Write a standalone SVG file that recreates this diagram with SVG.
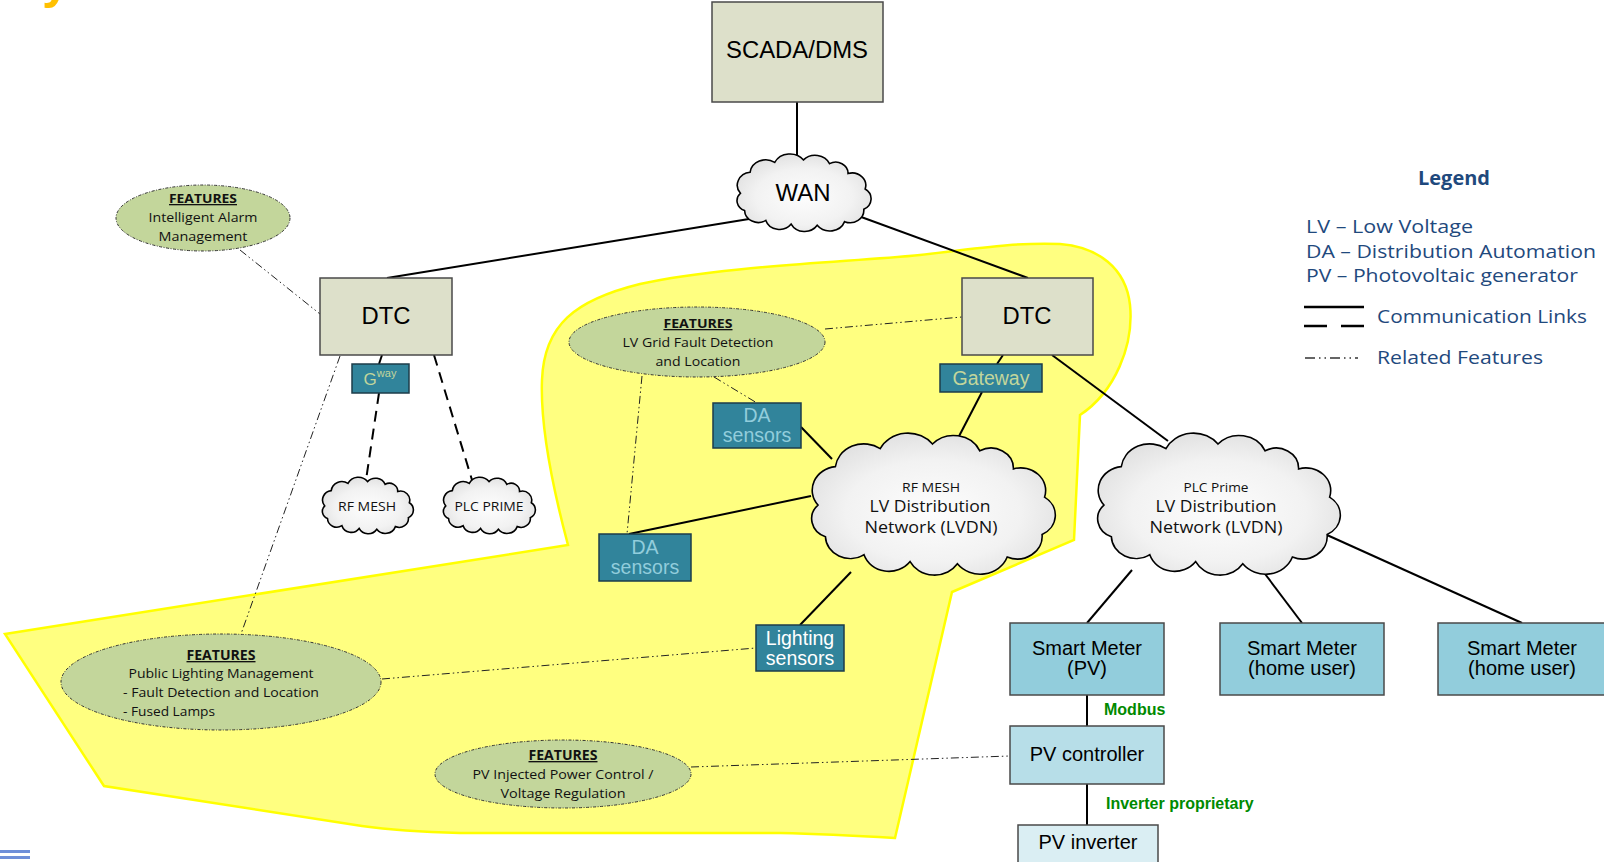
<svg xmlns="http://www.w3.org/2000/svg" xmlns:xlink="http://www.w3.org/1999/xlink" width="1604" height="862" viewBox="0 0 1604 862">
<defs>
<radialGradient id="cg" cx="0.5" cy="0.55" r="0.6">
<stop offset="0" stop-color="#fdfdfd"/>
<stop offset="0.6" stop-color="#f2f2f2"/>
<stop offset="1" stop-color="#dedede"/>
</radialGradient>
<path id="cloud" vector-effect="non-scaling-stroke" d="M 8,62 A 21,21 0 0 1 22,28 A 23,23 0 0 1 58,12 A 25,25 0 0 1 100,8 A 23,23 0 0 1 138,14 A 18,18 0 0 1 165,30 A 20,20 0 0 1 190,55 A 19,19 0 0 1 188,88 A 20,20 0 0 1 160,108 A 23,23 0 0 1 120,114 A 22,22 0 0 1 82,112 A 21,21 0 0 1 45,106 A 20,20 0 0 1 14,90 A 17,17 0 0 1 8,62 Z"/>
</defs>
<style>
.box{stroke:#4a4a4a;stroke-width:1.5}
.gray{fill:#dde0ca}
.teal{fill:#31849b;stroke:#1d3d4a;stroke-width:1.5}
.sm{fill:#92cddc}
.pvc{fill:#b7dee8}
.pvi{fill:#daeef3}
.cl{fill:url(#cg);stroke:#000;stroke-width:1.6}
.feat{fill:#c3d69b;stroke:#333;stroke-width:1;stroke-dasharray:3,1.5,1,1.5}
.ar{font-family:"Liberation Sans",Arial,sans-serif;text-anchor:middle}
.os{font-family:"Open Sans","Noto Sans",sans-serif;fill:#111;text-anchor:middle}
.st{text-anchor:start}
.ft{font-family:"Open Sans","Noto Sans",sans-serif;font-weight:bold;text-decoration:underline;fill:#111;text-anchor:middle}
.link{stroke:#000;stroke-width:2;fill:none}
.dash{stroke:#000;stroke-width:2;fill:none;stroke-dasharray:11,7}
.rel{stroke:#222;stroke-width:1;fill:none;stroke-dasharray:8,3,1.5,3,1.5,3}
.grn{font-family:"Liberation Sans",Arial,sans-serif;font-weight:bold;fill:#008a00;font-size:16px}
.leg{font-family:"Open Sans","Noto Sans",sans-serif;fill:#1f497d;font-size:19px}
</style>
<rect width="1604" height="862" fill="#fff"/>
<text x="42" y="-2" font-family="Liberation Sans,Arial,sans-serif" font-weight="bold" font-size="50" fill="#ffc000">y</text>
<rect x="0" y="850" width="30" height="3" fill="#6f8fd8"/>
<rect x="0" y="856" width="30" height="3" fill="#6f8fd8"/>

<g id="yellow-zone">
<path d="M 5,634 L 568,545 C 556,500 540,430 542,380 C 544,325 575,300 640,284 C 720,266 850,262 920,255 C 980,248 1020,242 1060,244 C 1098,247 1126,268 1130,305 C 1134,345 1115,392 1080,415 L 1074,540 L 952,592 L 895,838 C 860,836 820,834 780,833 L 460,833 C 420,832 390,830 362,826 L 104,786 Z" fill="#ffff80" stroke="#ffff00" stroke-width="2.5"/>
</g>

<g id="connectors">
<line class="link" x1="797" y1="102" x2="797" y2="158"/>
<line class="link" x1="749" y1="219" x2="387" y2="278"/>
<line class="link" x1="853" y1="214" x2="1028" y2="278"/>
<line class="link" x1="382" y1="355" x2="379" y2="364"/>
<line class="dash" x1="379" y1="393" x2="366" y2="480"/>
<line class="dash" x1="434" y1="355" x2="472" y2="480"/>
<line class="link" x1="1003" y1="355" x2="997" y2="364"/>
<line class="link" x1="982" y1="392" x2="956" y2="442"/>
<line class="link" x1="1052" y1="355" x2="1168" y2="441"/>
<line class="link" x1="801" y1="427" x2="832" y2="459"/>
<line class="link" x1="629" y1="534" x2="811" y2="496"/>
<line class="link" x1="851" y1="572" x2="800" y2="625"/>
<line class="link" x1="1132" y1="570" x2="1087" y2="623"/>
<line class="link" x1="1253" y1="558" x2="1302" y2="623"/>
<line class="link" x1="1327" y1="535" x2="1522" y2="623"/>
<line class="link" x1="1087" y1="695" x2="1087" y2="726"/>
<line class="link" x1="1087" y1="784" x2="1087" y2="825"/>
<line class="rel" x1="240" y1="250" x2="320" y2="314"/>
<line class="rel" x1="340" y1="356" x2="241" y2="634"/>
<line class="rel" x1="825" y1="329" x2="962" y2="317"/>
<line class="rel" x1="714" y1="377" x2="757" y2="403"/>
<line class="rel" x1="642" y1="376" x2="627" y2="534"/>
<line class="rel" x1="382" y1="679" x2="756" y2="648"/>
<line class="rel" x1="691" y1="767" x2="1010" y2="756"/>
<text class="grn" x="1104" y="715">Modbus</text>
<text class="grn" x="1106" y="809">Inverter proprietary</text>
</g>

<g id="scada">
<rect class="box gray" x="712" y="2" width="171" height="100"/>
<text class="ar" x="797" y="58" font-size="23" textLength="142" lengthAdjust="spacingAndGlyphs">SCADA/DMS</text>
</g>
<g id="wan">
<use xlink:href="#cloud" class="cl" transform="translate(735,155) scale(0.685,0.617)"/>
<text class="ar" x="803" y="201" font-size="23" textLength="55" lengthAdjust="spacingAndGlyphs">WAN</text>
</g>
<g id="dtc-left">
<rect class="box gray" x="320" y="278" width="132" height="77"/>
<text class="ar" x="386" y="324" font-size="23" textLength="49" lengthAdjust="spacingAndGlyphs">DTC</text>
</g>
<g id="dtc-right">
<rect class="box gray" x="962" y="278" width="131" height="77"/>
<text class="ar" x="1027" y="324" font-size="23" textLength="49" lengthAdjust="spacingAndGlyphs">DTC</text>
</g>
<g id="gway">
<rect class="teal" x="352" y="364" width="57" height="29"/>
<text class="ar" x="380" y="385" font-size="17" fill="#c3d69b">G<tspan font-size="11" dy="-8">way</tspan></text>
</g>
<g id="gateway">
<rect class="teal" x="940" y="364" width="102" height="28"/>
<text class="ar" x="991" y="385" font-size="19.5" fill="#c3d69b">Gateway</text>
</g>
<g id="rf-mesh-small">
<use xlink:href="#cloud" class="cl" transform="translate(321,478) scale(0.465,0.45)"/>
<text class="os" x="367" y="511" font-size="12.5" textLength="58" lengthAdjust="spacingAndGlyphs">RF MESH</text>
</g>
<g id="plc-prime-small">
<use xlink:href="#cloud" class="cl" transform="translate(442,478) scale(0.47,0.45)"/>
<text class="os" x="489" y="511" font-size="12.5" textLength="69" lengthAdjust="spacingAndGlyphs">PLC PRIME</text>
</g>
<g id="feat-alarm">
<ellipse class="feat" cx="203" cy="218" rx="87" ry="33"/>
<text class="ft" x="203" y="203" font-size="13" textLength="68" lengthAdjust="spacingAndGlyphs">FEATURES</text>
<text class="os" x="203" y="222" font-size="13" textLength="109" lengthAdjust="spacingAndGlyphs">Intelligent Alarm</text>
<text class="os" x="203" y="241" font-size="13" textLength="89" lengthAdjust="spacingAndGlyphs">Management</text>
</g>
<g id="feat-fault">
<ellipse class="feat" cx="697" cy="342" rx="128" ry="35"/>
<text class="ft" x="698" y="328" font-size="13" textLength="69" lengthAdjust="spacingAndGlyphs">FEATURES</text>
<text class="os" x="698" y="347" font-size="13" textLength="151" lengthAdjust="spacingAndGlyphs">LV Grid Fault Detection</text>
<text class="os" x="698" y="366" font-size="13" textLength="85" lengthAdjust="spacingAndGlyphs">and Location</text>
</g>
<g id="da-sensors-1">
<rect class="teal" x="713" y="403" width="88" height="45"/>
<text class="ar" x="757" y="422" font-size="19.5" fill="#92cddc">DA</text>
<text class="ar" x="757" y="442" font-size="19.5" fill="#92cddc">sensors</text>
</g>
<g id="da-sensors-2">
<rect class="teal" x="599" y="534" width="92" height="47"/>
<text class="ar" x="645" y="554" font-size="19.5" fill="#92cddc">DA</text>
<text class="ar" x="645" y="574" font-size="19.5" fill="#92cddc">sensors</text>
</g>
<g id="rf-mesh-lvdn">
<use xlink:href="#cloud" class="cl" transform="translate(808,435) scale(1.245,1.13)"/>
<text class="os" x="931" y="492" font-size="12.5" textLength="58" lengthAdjust="spacingAndGlyphs">RF MESH</text>
<text class="os" x="930" y="512" font-size="16" textLength="121" lengthAdjust="spacingAndGlyphs">LV Distribution</text>
<text class="os" x="931" y="533" font-size="16" textLength="133" lengthAdjust="spacingAndGlyphs">Network (LVDN)</text>
</g>
<g id="plc-prime-lvdn">
<use xlink:href="#cloud" class="cl" transform="translate(1094,435) scale(1.24,1.13)"/>
<text class="os" x="1216" y="492" font-size="12.5" textLength="65" lengthAdjust="spacingAndGlyphs">PLC Prime</text>
<text class="os" x="1216" y="512" font-size="16" textLength="121" lengthAdjust="spacingAndGlyphs">LV Distribution</text>
<text class="os" x="1216" y="533" font-size="16" textLength="133" lengthAdjust="spacingAndGlyphs">Network (LVDN)</text>
</g>
<g id="lighting-sensors">
<rect class="teal" x="756" y="625" width="88" height="46"/>
<text class="ar" x="800" y="645" font-size="19.5" fill="#ffffff">Lighting</text>
<text class="ar" x="800" y="665" font-size="19.5" fill="#ffffff">sensors</text>
</g>
<g id="feat-lighting">
<ellipse class="feat" cx="221" cy="682" rx="160" ry="48"/>
<text class="ft" x="221" y="660" font-size="13.5" textLength="69" lengthAdjust="spacingAndGlyphs">FEATURES</text>
<text class="os" x="221" y="678" font-size="13.5" textLength="185" lengthAdjust="spacingAndGlyphs">Public Lighting Management</text>
<text class="os st" x="123" y="697" font-size="13.5" textLength="196" lengthAdjust="spacingAndGlyphs">- Fault Detection and Location</text>
<text class="os st" x="123" y="716" font-size="13.5" textLength="92" lengthAdjust="spacingAndGlyphs">- Fused Lamps</text>
</g>
<g id="feat-pv">
<ellipse class="feat" cx="563" cy="774" rx="128" ry="34"/>
<text class="ft" x="563" y="760" font-size="13.5" textLength="69" lengthAdjust="spacingAndGlyphs">FEATURES</text>
<text class="os" x="563" y="779" font-size="13.5" textLength="181" lengthAdjust="spacingAndGlyphs">PV Injected Power Control /</text>
<text class="os" x="563" y="798" font-size="13.5" textLength="125" lengthAdjust="spacingAndGlyphs">Voltage Regulation</text>
</g>
<g id="sm-pv">
<rect class="box sm" x="1010" y="623" width="154" height="72"/>
<text class="ar" x="1087" y="655" font-size="20">Smart Meter</text>
<text class="ar" x="1087" y="675" font-size="20">(PV)</text>
</g>
<g id="sm-home-1">
<rect class="box sm" x="1220" y="623" width="164" height="72"/>
<text class="ar" x="1302" y="655" font-size="20">Smart Meter</text>
<text class="ar" x="1302" y="675" font-size="20">(home user)</text>
</g>
<g id="sm-home-2">
<rect class="box sm" x="1438" y="623" width="175" height="72"/>
<text class="ar" x="1522" y="655" font-size="20">Smart Meter</text>
<text class="ar" x="1522" y="675" font-size="20">(home user)</text>
</g>
<g id="pv-controller">
<rect class="box pvc" x="1010" y="726" width="154" height="58"/>
<text class="ar" x="1087" y="761" font-size="20">PV controller</text>
</g>
<g id="pv-inverter">
<rect class="box pvi" x="1018" y="825" width="140" height="45"/>
<text class="ar" x="1088" y="849" font-size="20">PV inverter</text>
</g>
<g id="legend">
<text class="leg" x="1454" y="185" font-weight="bold" font-size="17.5" text-anchor="middle" textLength="72" lengthAdjust="spacingAndGlyphs">Legend</text>
<text class="leg" x="1306" y="233" textLength="167" lengthAdjust="spacingAndGlyphs">LV – Low Voltage</text>
<text class="leg" x="1306" y="258" textLength="290" lengthAdjust="spacingAndGlyphs">DA – Distribution Automation</text>
<text class="leg" x="1306" y="282" textLength="272" lengthAdjust="spacingAndGlyphs">PV – Photovoltaic generator</text>
<line x1="1304" y1="307" x2="1364" y2="307" stroke="#000" stroke-width="2.5"/>
<line x1="1304" y1="326" x2="1364" y2="326" stroke="#000" stroke-width="2.5" stroke-dasharray="23,14"/>
<text class="leg" x="1377" y="323" textLength="210" lengthAdjust="spacingAndGlyphs">Communication Links</text>
<line x1="1305" y1="358" x2="1358" y2="358" stroke="#333" stroke-width="1.5" stroke-dasharray="10,4,1.5,4,1.5,4"/>
<text class="leg" x="1377" y="364" textLength="166" lengthAdjust="spacingAndGlyphs">Related Features</text>
</g>
</svg>
